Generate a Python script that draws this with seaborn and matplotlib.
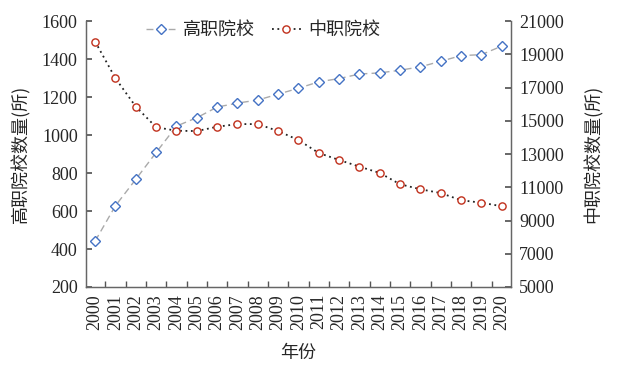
import matplotlib
matplotlib.use("Agg")
import matplotlib.pyplot as plt
import seaborn as sns
import pandas as pd
from matplotlib.ticker import FixedLocator

years = [str(y) for y in range(2000, 2021)]
gaozhi = [442, 628, 767, 908, 1047, 1091, 1147, 1168, 1184, 1215, 1246,
          1280, 1297, 1321, 1327, 1341, 1359, 1388, 1418, 1423, 1468]
zhongzhi = [19760, 17550, 15850, 14610, 14400, 14380, 14640, 14800, 14800, 14380, 13840,
            13060, 12640, 12240, 11860, 11180, 10880, 10650, 10220, 10070, 9860]

sns.set_theme(style="white")
plt.rcParams['font.family'] = ['Liberation Serif', 'Noto Sans CJK SC']
cjk = ['Noto Sans CJK SC', 'DejaVu Sans']

df = pd.DataFrame({"idx": range(len(years)), "year": years,
                   "gaozhi": gaozhi, "zhongzhi": zhongzhi})

fig = plt.figure(figsize=(6.17, 3.72), dpi=100)
ax = fig.add_axes([0.1394, 0.2285, 0.6886, 0.715])
ax2 = ax.twinx()

sns.lineplot(data=df, x="idx", y="gaozhi", ax=ax, color="#aaaaaa",
             linestyle=(0, (5, 3)), linewidth=1.0, marker="D", markersize=4.8,
             markerfacecolor="white", markeredgecolor="#4472c4", markeredgewidth=1.0,
             label="高职院校", legend=False)
sns.lineplot(data=df, x="idx", y="zhongzhi", ax=ax2, color="#222222",
             linestyle=(0, (1, 2)), linewidth=1.3, marker="o", markersize=5.2,
             markerfacecolor="white", markeredgecolor="#c0301c", markeredgewidth=1.0,
             label="中职院校", legend=False)

ax.set_xlim(-0.45, 20.45)
ax.set_ylim(200, 1600)
ax2.set_ylim(5000, 21000)
ax.set_yticks(range(200, 1601, 200))
ax2.set_yticks(range(5000, 21001, 2000))

ax.set_xticks(range(len(years)))
ax.set_xticklabels(years, rotation=90)
ax.xaxis.set_minor_locator(FixedLocator([i + 0.5 for i in range(len(years) - 1)]))
ax.tick_params(axis='x', which='major', length=0, labelsize=13, pad=5)
ax.tick_params(axis='x', which='minor', length=4, direction='in', color='#555555', bottom=True)
ax.tick_params(axis='y', length=4, direction='in', labelsize=13, color='#555555', left=True, pad=6)
ax2.tick_params(axis='y', length=4, direction='in', labelsize=13, color='#555555', right=True, pad=6)

for a in (ax, ax2):
    a.spines['top'].set_visible(False)
    for s in ('left', 'right', 'bottom'):
        a.spines[s].set_color('#666666')
        a.spines[s].set_linewidth(0.9)

ax.set_xlabel("年份", fontsize=13, family=cjk, labelpad=10)
ax.set_ylabel("高职院校数量(所)", fontsize=13, family=cjk, labelpad=8)
ax2.set_ylabel("中职院校数量(所)", fontsize=13, family=cjk, labelpad=14)

h1, l1 = ax.get_legend_handles_labels()
h2, l2 = ax2.get_legend_handles_labels()
leg = ax.legend(h1 + h2, l1 + l2, loc='upper center', bbox_to_anchor=(0.418, 1.06),
                ncol=2, frameon=False, prop={'family': cjk, 'size': 13},
                handlelength=1.6, columnspacing=0.9, handletextpad=0.45)

fig.savefig("out.png", dpi=100)
